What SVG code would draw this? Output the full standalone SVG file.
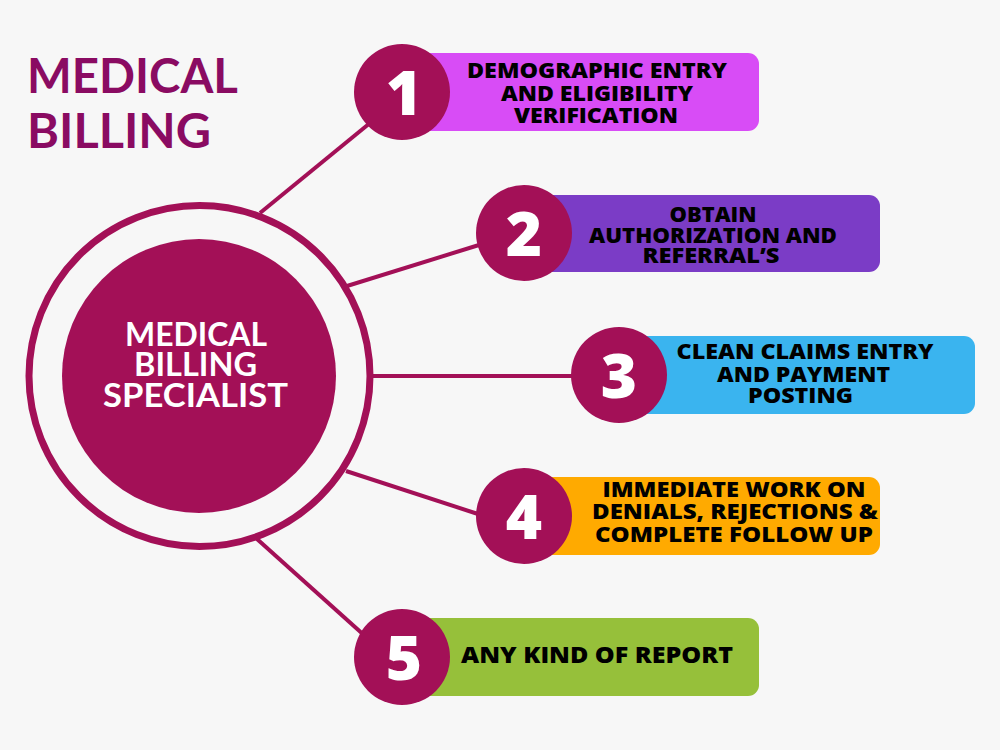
<svg xmlns="http://www.w3.org/2000/svg" width="1000" height="750" viewBox="0 0 1000 750">
<style>
.bg{fill:#f7f7f7}
.conn{stroke:#a31057;stroke-width:4;fill:none;stroke-linecap:butt}
.num{fill:#a31057}
.numt{fill:#ffffff;font-family:"Open Sans",Lato,sans-serif;font-weight:800;font-size:62px;text-anchor:middle}
.lbl{fill:#000000;font-family:"Open Sans",Lato,sans-serif;font-weight:800;font-size:20.5px;text-anchor:middle}
.title{fill:#8a0b62;font-family:Lato,"Open Sans",sans-serif;font-weight:700;font-size:47px}
.ctr{fill:#ffffff;font-family:Lato,"Open Sans",sans-serif;font-weight:700;font-size:33px;text-anchor:middle}
</style>
<rect class="bg" x="0" y="0" width="1000" height="750"/>
<g id="title">
<text class="title" x="27" y="93" textLength="211" lengthAdjust="spacingAndGlyphs">MEDICAL</text>
<text class="title" x="27" y="148" textLength="184" lengthAdjust="spacingAndGlyphs">BILLING</text>
</g>
<g id="connectors">
<line class="conn" x1="260" y1="213" x2="370" y2="123"/>
<line class="conn" x1="347" y1="286" x2="479" y2="245"/>
<line class="conn" x1="372" y1="376" x2="574" y2="376"/>
<line class="conn" x1="346" y1="471" x2="478" y2="514"/>
<line class="conn" x1="257" y1="539" x2="365" y2="636"/>
</g>
<g id="center">
<circle cx="199.5" cy="376" r="170.5" fill="none" stroke="#a31057" stroke-width="7"/>
<circle cx="199" cy="376" r="137" fill="#a31057"/>
<text class="ctr" x="196" y="346" textLength="142" lengthAdjust="spacingAndGlyphs">MEDICAL</text>
<text class="ctr" x="195.5" y="376" textLength="123" lengthAdjust="spacingAndGlyphs">BILLING</text>
<text class="ctr" x="195.5" y="407" textLength="185" lengthAdjust="spacingAndGlyphs">SPECIALIST</text>
</g>
<g id="step1">
<rect x="400" y="53" width="359" height="78" rx="11" fill="#d84cf6"/>
<circle class="num" cx="402" cy="92" r="48"/>
<text class="numt" x="404" y="115">1</text>
<text class="lbl" x="597" y="78" textLength="260" lengthAdjust="spacingAndGlyphs">DEMOGRAPHIC ENTRY</text>
<text class="lbl" x="597" y="101" textLength="192" lengthAdjust="spacingAndGlyphs">AND ELIGIBILITY</text>
<text class="lbl" x="596" y="123" textLength="164" lengthAdjust="spacingAndGlyphs">VERIFICATION</text>
</g>
<g id="step2">
<rect x="522" y="195" width="358" height="77" rx="11" fill="#7b3cc6"/>
<circle class="num" cx="524" cy="233" r="48"/>
<text class="numt" x="524" y="256">2</text>
<text class="lbl" x="713" y="222" textLength="87" lengthAdjust="spacingAndGlyphs">OBTAIN</text>
<text class="lbl" x="713" y="243" textLength="248" lengthAdjust="spacingAndGlyphs">AUTHORIZATION AND</text>
<text class="lbl" x="711" y="263" textLength="137" lengthAdjust="spacingAndGlyphs">REFERRAL’S</text>
</g>
<g id="step3">
<rect x="617" y="336" width="358" height="78" rx="11" fill="#3ab4ef"/>
<circle class="num" cx="619" cy="375" r="48"/>
<text class="numt" x="619" y="398">3</text>
<text class="lbl" x="805" y="359" textLength="257" lengthAdjust="spacingAndGlyphs">CLEAN CLAIMS ENTRY</text>
<text class="lbl" x="803.5" y="382" textLength="173" lengthAdjust="spacingAndGlyphs">AND PAYMENT</text>
<text class="lbl" x="800.5" y="403" textLength="105" lengthAdjust="spacingAndGlyphs">POSTING</text>
</g>
<g id="step4">
<rect x="522" y="477" width="358" height="78" rx="11" fill="#ffaa00"/>
<circle class="num" cx="524" cy="516" r="48"/>
<text class="numt" x="524" y="539">4</text>
<text class="lbl" x="734" y="497" textLength="263" lengthAdjust="spacingAndGlyphs">IMMEDIATE WORK ON</text>
<text class="lbl" x="735" y="519" textLength="286" lengthAdjust="spacingAndGlyphs">DENIALS, REJECTIONS &amp;</text>
<text class="lbl" x="734" y="542" textLength="278" lengthAdjust="spacingAndGlyphs">COMPLETE FOLLOW UP</text>
</g>
<g id="step5">
<rect x="400" y="618" width="359" height="78" rx="11" fill="#96c03a"/>
<circle class="num" cx="402" cy="657" r="48"/>
<text class="numt" x="404" y="680">5</text>
<text class="lbl" x="597" y="663" style="font-size:23px" textLength="272" lengthAdjust="spacingAndGlyphs">ANY KIND OF REPORT</text>
</g>
</svg>
